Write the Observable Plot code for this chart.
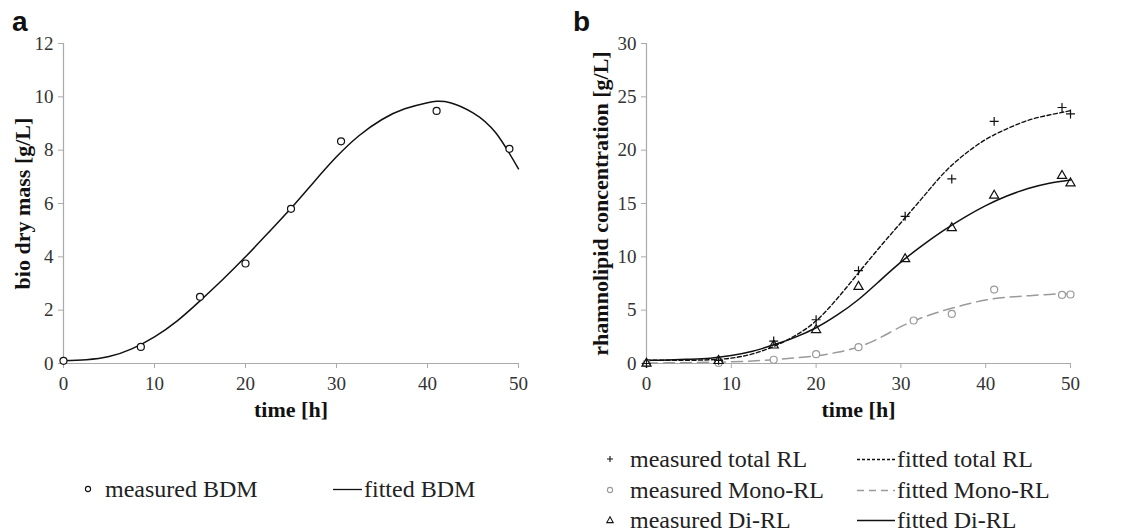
<!DOCTYPE html>
<html><head><meta charset="utf-8">
<script src="https://cdn.jsdelivr.net/npm/d3@7"></script>
<script src="https://cdn.jsdelivr.net/npm/@observablehq/plot@0.6"></script>
<style>
body{margin:0;background:#fff;}
#root{position:relative;width:1148px;height:532px;overflow:hidden;font-family:"Liberation Serif","Times New Roman",serif;color:#222;background:#fff;}
.panel{position:absolute;top:0;}
.panel text{font-family:"Liberation Serif","Times New Roman",serif !important;}
.panel [aria-label="x-axis tick label"] text,.panel [aria-label="y-axis tick label"] text{font-size:19px !important;}
.plabel{position:absolute;font-family:"Liberation Sans",Arial,sans-serif;font-weight:bold;font-size:28px;line-height:1;color:#111;}
.leg{position:absolute;font-size:24px;white-space:nowrap;line-height:1;display:flex;align-items:center;transform:translateY(-50%);}
.leg svg{display:block;}
</style></head><body><div id="root"></div>
<script>
// ---- Panel a: bio dry mass ----
const timeA = [0, 8.5, 15, 20, 25, 30.5, 41, 49];
const bdmMeasured = [0.1, 0.62, 2.5, 3.75, 5.8, 8.33, 9.47, 8.05];
const fitTimeA = [0, 2.5, 5, 7.5, 10, 12.5, 15, 17.5, 20, 22.5, 25, 27.5, 30, 32.5, 35, 37.5, 40, 41, 42.5, 45, 47.5, 50];
const bdmFitted = [0.1, 0.14, 0.26, 0.55, 1.0, 1.6, 2.35, 3.15, 4.0, 4.9, 5.82, 6.8, 7.75, 8.55, 9.15, 9.55, 9.78, 9.83, 9.78, 9.4, 8.65, 7.3];
const xTicks = [0, 10, 20, 30, 40, 50];
const yTicksA = [0, 2, 4, 6, 8, 10, 12];

// ---- Panel b: rhamnolipids ----
const timeB = [0, 8.5, 15, 20, 25, 30.5, 36, 41, 49, 50];
const totalMeasured = [0, 0.3, 2.1, 4.1, 8.7, 13.8, 17.3, 22.7, 24.0, 23.4];
const diMeasured = [0, 0.25, 1.7, 3.15, 7.2, 9.8, 12.7, 15.75, 17.6, 16.9];
const monoTime = [0, 8.5, 15, 20, 25, 31.5, 36, 41, 49, 50];
const monoMeasured = [0, 0.05, 0.35, 0.87, 1.53, 4.03, 4.65, 6.93, 6.43, 6.47];
const fitTimeB = [0, 2.5, 5, 7.5, 10, 12.5, 15, 17.5, 20, 22.5, 25, 27.5, 30, 32.5, 35, 37.5, 40, 42.5, 45, 47.5, 50];
const totalFitted = [0.3, 0.3, 0.3, 0.35, 0.5, 0.9, 1.6, 2.6, 4.0, 6.1, 8.5, 10.9, 13.2, 15.5, 17.8, 19.6, 21.0, 22.0, 22.8, 23.3, 23.7];
const diFitted = [0.3, 0.33, 0.4, 0.5, 0.75, 1.15, 1.75, 2.45, 3.35, 4.55, 6.0, 7.75, 9.5, 11.05, 12.45, 13.7, 14.8, 15.7, 16.4, 16.9, 17.2];
const monoFitted = [0.05, 0.06, 0.08, 0.11, 0.16, 0.24, 0.36, 0.52, 0.72, 1.05, 1.55, 2.4, 3.45, 4.3, 4.95, 5.5, 5.95, 6.2, 6.35, 6.48, 6.55];
const yTicksB = [0, 5, 10, 15, 20, 25, 30];

const AXIS = "#aaaaaa", TEXT = "#333333", INK = "#111111", GREY = "#9a9a9a";
const SERIF = "'Liberation Serif','Times New Roman',serif";
const zip = (xs, ys) => xs.map((x, i) => ({x, y: ys[i]}));

function axes(yTicks, yMax) {
  const t = {stroke: AXIS, fill: TEXT, label: null, fontFamily: SERIF, fontSize: 19, tickFormat: d => String(d)};
  return [
    Plot.ruleX([0], {y1: 0, y2: yMax, stroke: AXIS, strokeWidth: 1.2}),
    Plot.ruleY([0], {x1: 0, x2: 50, stroke: AXIS, strokeWidth: 1.2}),
    Plot.axisX({...t, ticks: xTicks, tickSize: 5, tickPadding: 8}),
    Plot.axisY({...t, ticks: yTicks, tickSize: 5, tickPadding: 5})
  ];
}

const common = {
  height: 420, marginTop: 43, marginBottom: 57,
  x: {domain: [0, 50]},
  style: {fontFamily: SERIF, fontSize: "19px", color: TEXT, background: "transparent", overflow: "visible"}
};

const titleOpts = {fontWeight: "bold", fontSize: 22, fill: "#111", fontFamily: SERIF, textAnchor: "middle"};

const plotA = Plot.plot({
  ...common,
  width: 560, marginLeft: 63, marginRight: 42,
  y: {domain: [0, 12]},
  marks: [
    ...axes(yTicksA, 12),
    Plot.line(zip(fitTimeA, bdmFitted), {x: "x", y: "y", curve: "natural", stroke: INK, strokeWidth: 1.5}),
    Plot.dot(zip(timeA, bdmMeasured), {x: "x", y: "y", r: 3.5, stroke: INK, strokeWidth: 1.2, fill: "white"}),
    Plot.text(["time [h]"], {...titleOpts, frameAnchor: "bottom", dy: 53}),
    Plot.text(["bio dry mass [g/L]"], {...titleOpts, frameAnchor: "left", dx: -41, rotate: -90})
  ]
});

const plotB = Plot.plot({
  ...common,
  width: 588, marginLeft: 86, marginRight: 78,
  y: {domain: [0, 30]},
  marks: [
    ...axes(yTicksB, 30),
    Plot.line(zip(fitTimeB, monoFitted), {x: "x", y: "y", curve: "natural", stroke: GREY, strokeWidth: 1.5, strokeDasharray: "11,6"}),
    Plot.line(zip(fitTimeB, diFitted), {x: "x", y: "y", curve: "natural", stroke: INK, strokeWidth: 1.5}),
    Plot.line(zip(fitTimeB, totalFitted), {x: "x", y: "y", curve: "natural", stroke: INK, strokeWidth: 1.4, strokeDasharray: "4,2.5"}),
    Plot.dot(zip(monoTime, monoMeasured), {x: "x", y: "y", r: 3.5, stroke: GREY, strokeWidth: 1.2, fill: "white"}),
    Plot.dot(zip(timeB, diMeasured), {x: "x", y: "y", symbol: "triangle", r: 3.4, stroke: INK, strokeWidth: 1.2, fill: "none"}),
    Plot.dot(zip(timeB, totalMeasured), {x: "x", y: "y", symbol: "plus", r: 3, stroke: INK, strokeWidth: 1.2}),
    Plot.text(["time [h]"], {...titleOpts, frameAnchor: "bottom", dy: 53}),
    Plot.text(["rhamnolipid concentration [g/L]"], {...titleOpts, frameAnchor: "left", dx: -46, rotate: -90})
  ]
});

const root = document.getElementById("root");
function place(el, left) { el.classList.add("panel"); el.style.left = left + "px"; root.appendChild(el); }
place(plotA, 0);
place(plotB, 560);

function label(t, left, top) {
  const d = document.createElement("div"); d.className = "plabel"; d.textContent = t;
  d.style.left = left + "px"; d.style.top = top + "px"; root.appendChild(d);
}
label("a", 12, 8);
label("b", 573, 8);

// legend helpers
const NS = "http://www.w3.org/2000/svg";
function icon(w, h, build) {
  const s = document.createElementNS(NS, "svg");
  s.setAttribute("width", w); s.setAttribute("height", h);
  build(s); return s;
}
function el(tag, attrs) { const e = document.createElementNS(NS, tag); for (const k in attrs) e.setAttribute(k, attrs[k]); return e; }
function legendItem(left, cy, iconSvg, text, gap) {
  const d = document.createElement("div"); d.className = "leg";
  d.style.left = left + "px"; d.style.top = cy + "px";
  d.appendChild(iconSvg);
  const sp = document.createElement("span"); sp.textContent = text; sp.style.marginLeft = gap + "px";
  d.appendChild(sp); root.appendChild(d);
}
const markerCircle = (col) => icon(10, 10, s => s.appendChild(el("circle", {cx: 5, cy: 5, r: 2.6, fill: "none", stroke: col, "stroke-width": 1.1})));
const markerPlus = () => icon(10, 10, s => { s.appendChild(el("path", {d: "M5,2V8M2,5H8", stroke: INK, "stroke-width": 1.1})); });
const markerTri = () => icon(10, 10, s => s.appendChild(el("path", {d: "M5,1.8L8.2,7.6H1.8Z", fill: "none", stroke: INK, "stroke-width": 1.1})));
const lineIcon = (col, dash, w) => icon(w, 10, s => s.appendChild(el("line", {x1: 0, x2: w, y1: 5.5, y2: 5.5, stroke: col, "stroke-width": 1.3, "stroke-dasharray": dash})));

legendItem(83, 489, markerCircle(INK), "measured BDM", 12);
legendItem(333, 489, lineIcon(INK, "none", 29), "fitted BDM", 2);

const rows = [459, 490, 520];
legendItem(605, rows[0], markerPlus(), "measured total RL", 15);
legendItem(605, rows[1], markerCircle(GREY), "measured Mono-RL", 15);
legendItem(605, rows[2], markerTri(), "measured Di-RL", 15);
legendItem(857, rows[0], lineIcon(INK, "3,2", 38), "fitted total RL", 2);
legendItem(857, rows[1], lineIcon(GREY, "7,5", 38), "fitted Mono-RL", 2);
legendItem(857, rows[2], lineIcon(INK, "none", 38), "fitted Di-RL", 2);
</script></body></html>
